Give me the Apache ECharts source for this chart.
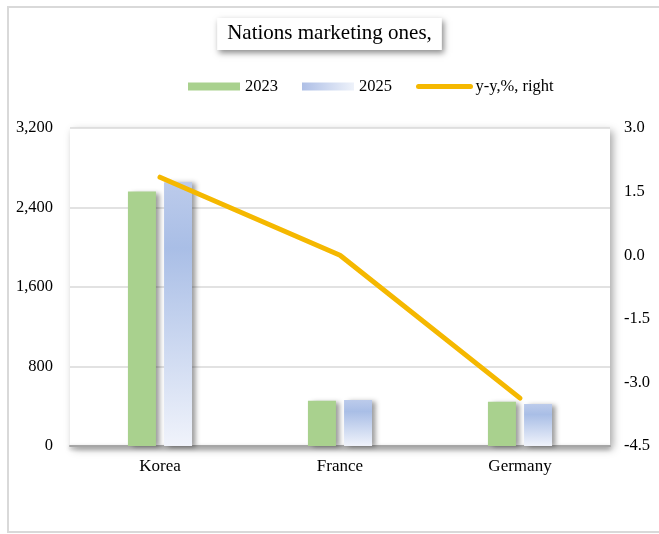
<!DOCTYPE html>
<html>
<head>
<meta charset="utf-8">
<script src="https://cdn.jsdelivr.net/npm/echarts@6/dist/echarts.min.js"></script>
<style>
html,body{margin:0;padding:0;background:#fff;}
#frame{position:absolute;left:7px;top:6px;width:660px;height:527px;border-left:2px solid #d9d9d9;border-top:2px solid #d9d9d9;border-bottom:2px solid #d9d9d9;box-sizing:border-box;}
#chart{position:absolute;left:0;top:0;width:659px;height:534px;}
</style>
</head>
<body>
<div id="frame"></div>
<div id="chart"></div>
<script>
const categories = ['Korea', 'France', 'Germany'];
const values2023 = [2560, 456, 446];
const values2025 = [2655, 463, 423];
const yoyRight = [1.84, 0.0, -3.37];
const leftTicks = [0, 800, 1600, 2400, 3200];
const rightTicks = [-4.5, -3.0, -1.5, 0.0, 1.5, 3.0];

const serif = "'Liberation Serif', 'Times New Roman', serif";
const chart = echarts.init(document.getElementById('chart'));
chart.setOption({
  animation: false,
  title: {
    text: 'Nations marketing ones,',
    left: 'center',
    top: 18,
    padding: [5, 10, 6, 10],
    backgroundColor: '#fff',
    shadowBlur: 6,
    shadowOffsetX: 2,
    shadowOffsetY: 3,
    shadowColor: 'rgba(0,0,0,0.45)',
    textStyle: {fontFamily: serif, fontSize: 21, fontWeight: 'normal', color: '#000'}
  },
  legend: {
    top: 78,
    left: 188,
    padding: 0,
    itemWidth: 52,
    itemHeight: 8,
    itemGap: 24,
    textStyle: {fontFamily: serif, fontSize: 16.5, color: '#000'},
    data: [
      {name: '2023', icon: 'rect', itemStyle: {shadowBlur: 0, shadowOffsetX: 0, shadowOffsetY: 0}},
      {name: '2025', icon: 'rect', itemStyle: {
        color: new echarts.graphic.LinearGradient(0, 0, 1, 0, [
          {offset: 0, color: '#aebfe6'},
          {offset: 1, color: '#eef2fa'}
        ]), shadowBlur: 0, shadowOffsetX: 0, shadowOffsetY: 0}},
      {name: 'y-y,%, right', lineStyle: {width: 5, cap: 'round'}, itemStyle: {opacity: 0}}
    ]
  },
  grid: {
    left: 70, right: 49, top: 128, bottom: 88,
    show: true,
    backgroundColor: '#fff',
    borderWidth: 0,
    shadowBlur: 8,
    shadowOffsetX: 3,
    shadowOffsetY: 3,
    shadowColor: 'rgba(0,0,0,0.35)'
  },
  xAxis: {
    type: 'category',
    data: categories,
    axisTick: {show: false},
    axisLine: {lineStyle: {color: '#a6a6a6', width: 2, shadowBlur: 4, shadowOffsetY: 2, shadowColor: 'rgba(0,0,0,0.35)'}},
    axisLabel: {fontFamily: serif, fontSize: 17, color: '#000', margin: 12}
  },
  yAxis: [
    {
      type: 'value', min: leftTicks[0], max: leftTicks[leftTicks.length - 1], interval: 800,
      axisLine: {show: false}, axisTick: {show: false},
      splitLine: {lineStyle: {color: '#d9d9d9', width: 1.5}},
      axisLabel: {fontFamily: serif, fontSize: 16.5, color: '#000', margin: 17,
        formatter: v => v.toLocaleString('en-US')}
    },
    {
      type: 'value', min: rightTicks[0], max: rightTicks[rightTicks.length - 1], interval: 1.5,
      axisLine: {show: false}, axisTick: {show: false}, splitLine: {show: false},
      axisLabel: {fontFamily: serif, fontSize: 16.5, color: '#000', margin: 14,
        formatter: v => v.toFixed(1)}
    }
  ],
  series: [
    {
      name: '2023', type: 'bar', data: values2023, barWidth: 28, barGap: '29%',
      itemStyle: {color: '#a9d18e', shadowBlur: 5, shadowOffsetX: 4, shadowOffsetY: 1, shadowColor: 'rgba(0,0,0,0.4)'}
    },
    {
      name: '2025', type: 'bar', data: values2025, barWidth: 28,
      itemStyle: {
        color: new echarts.graphic.LinearGradient(0, 0, 0, 1, [
          {offset: 0, color: '#bccbeb'},
          {offset: 0.25, color: '#a9bee6'},
          {offset: 1, color: '#f0f3fb'}
        ]),
        shadowBlur: 5, shadowOffsetX: 4, shadowOffsetY: 1, shadowColor: 'rgba(0,0,0,0.4)'
      }
    },
    {
      name: 'y-y,%, right', type: 'line', yAxisIndex: 1, data: yoyRight,
      symbol: 'none',
      lineStyle: {color: '#f5b800', width: 5, cap: 'round', join: 'round'},
      itemStyle: {color: '#f5b800'}
    }
  ]
});
</script>
</body>
</html>
